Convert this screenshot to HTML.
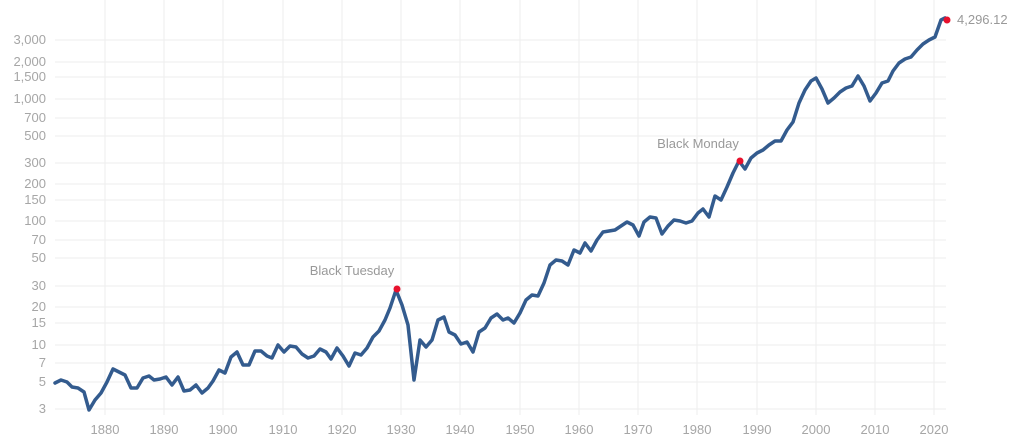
<!DOCTYPE html>
<html><head><meta charset="utf-8"><style>
html,body{margin:0;padding:0;background:#fff;}
svg{display:block;font-family:"Liberation Sans",sans-serif;}
</style></head><body>
<svg width="1024" height="448" viewBox="0 0 1024 448">
<g stroke="#eeeeee" stroke-width="1">
<line x1="105" y1="0" x2="105" y2="415"/><line x1="164" y1="0" x2="164" y2="415"/><line x1="223" y1="0" x2="223" y2="415"/><line x1="283" y1="0" x2="283" y2="415"/><line x1="342" y1="0" x2="342" y2="415"/><line x1="401" y1="0" x2="401" y2="415"/><line x1="460" y1="0" x2="460" y2="415"/><line x1="520" y1="0" x2="520" y2="415"/><line x1="579" y1="0" x2="579" y2="415"/><line x1="638" y1="0" x2="638" y2="415"/><line x1="697" y1="0" x2="697" y2="415"/><line x1="757" y1="0" x2="757" y2="415"/><line x1="816" y1="0" x2="816" y2="415"/><line x1="875" y1="0" x2="875" y2="415"/><line x1="934" y1="0" x2="934" y2="415"/>
<line x1="55" y1="40" x2="946" y2="40"/><line x1="55" y1="62" x2="946" y2="62"/><line x1="55" y1="77" x2="946" y2="77"/><line x1="55" y1="99" x2="946" y2="99"/><line x1="55" y1="118" x2="946" y2="118"/><line x1="55" y1="136" x2="946" y2="136"/><line x1="55" y1="163" x2="946" y2="163"/><line x1="55" y1="184" x2="946" y2="184"/><line x1="55" y1="200" x2="946" y2="200"/><line x1="55" y1="221" x2="946" y2="221"/><line x1="55" y1="240" x2="946" y2="240"/><line x1="55" y1="258" x2="946" y2="258"/><line x1="55" y1="286" x2="946" y2="286"/><line x1="55" y1="307" x2="946" y2="307"/><line x1="55" y1="323" x2="946" y2="323"/><line x1="55" y1="345" x2="946" y2="345"/><line x1="55" y1="363" x2="946" y2="363"/><line x1="55" y1="382" x2="946" y2="382"/><line x1="55" y1="409" x2="946" y2="409"/>
</g>
<g fill="#a6a6a6" font-size="13" text-anchor="end">
<text x="46" y="44">3,000</text><text x="46" y="66">2,000</text><text x="46" y="81">1,500</text><text x="46" y="103">1,000</text><text x="46" y="122">700</text><text x="46" y="140">500</text><text x="46" y="167">300</text><text x="46" y="188">200</text><text x="46" y="204">150</text><text x="46" y="225">100</text><text x="46" y="244">70</text><text x="46" y="262">50</text><text x="46" y="290">30</text><text x="46" y="311">20</text><text x="46" y="327">15</text><text x="46" y="349">10</text><text x="46" y="367">7</text><text x="46" y="386">5</text><text x="46" y="413">3</text>
</g>
<g fill="#a6a6a6" font-size="13" text-anchor="middle">
<text x="105" y="434">1880</text><text x="164" y="434">1890</text><text x="223" y="434">1900</text><text x="283" y="434">1910</text><text x="342" y="434">1920</text><text x="401" y="434">1930</text><text x="460" y="434">1940</text><text x="520" y="434">1950</text><text x="579" y="434">1960</text><text x="638" y="434">1970</text><text x="697" y="434">1980</text><text x="757" y="434">1990</text><text x="816" y="434">2000</text><text x="875" y="434">2010</text><text x="934" y="434">2020</text>
</g>
<polyline fill="none" stroke="#335b8e" stroke-width="3.5" stroke-linejoin="round" stroke-linecap="round" points="55,383 61,380 67,382 72,387 78,388 84,392 89,410 95,400 101,393 107,382 113,369 119,372 125,375 131,388 137,388 143,378 149,376 154,380 160,379 166,377 172,385 178,377 184,391 190,390 196,385 202,393 208,388 213,381 219,370 225,373 231,357 237,352 243,365 249,365 255,351 261,351 267,356 272,358 278,345 284,352 290,346 296,347 302,354 308,358 314,356 320,349 326,352 331,359 337,348 343,356 349,366 355,353 361,355 367,348 373,337 379,331 385,320 390,308 396,290 402,305 408,325 414,380 420,340 426,347 432,340 438,320 444,317 449,332 455,335 461,344 467,342 473,352 479,332 485,328 491,318 497,314 503,320 508,318 514,323 520,313 526,300 532,295 538,296 544,283 550,265 556,260 562,261 568,265 574,250 580,253 585,243 591,251 597,240 603,232 609,231 615,230 621,226 627,222 633,225 639,236 644,222 650,217 656,218 662,234 668,226 674,220 680,221 686,223 692,221 698,213 703,209 709,217 715,196 721,200 727,187 733,173 739,161 745,169 751,158 757,153 763,150 769,145 775,141 781,141 787,130 793,122 799,103 805,90 811,81 816,78 822,89 828,103 834,98 840,92 846,88 852,86 858,76 864,86 870,101 876,93 882,83 888,81 893,71 899,63 905,59 911,57 917,50 923,44 929,40 935,37 941,20 945,18"/>
<circle cx="397" cy="289" r="3.5" fill="#e8112d"/>
<circle cx="740" cy="161" r="3.5" fill="#e8112d"/>
<circle cx="947" cy="20" r="3.5" fill="#e8112d"/>
<g fill="#999" font-size="13">
<text x="352" y="275" text-anchor="middle">Black Tuesday</text>
<text x="698" y="148" text-anchor="middle">Black Monday</text>
<text x="957" y="24">4,296.12</text>
</g>
</svg>
</body></html>
